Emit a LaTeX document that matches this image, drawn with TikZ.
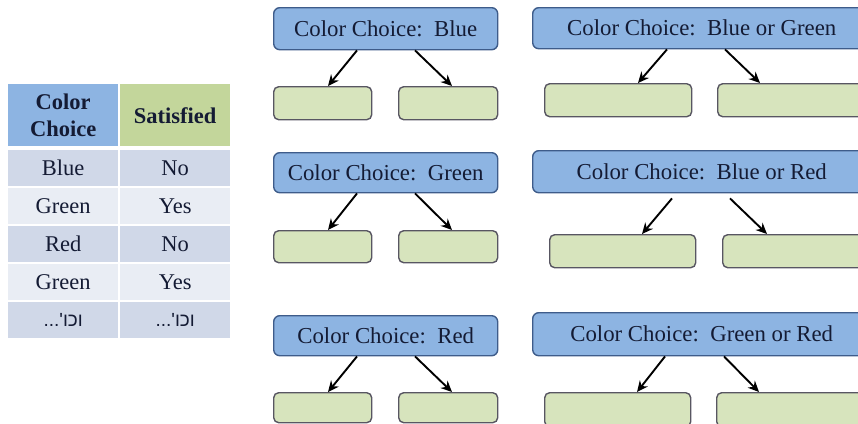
\documentclass[tikz,border=0pt]{standalone}
\usepackage{fontspec}
\setmainfont{Liberation Serif}
\newfontfamily\hebfont[Script=Hebrew]{Liberation Sans}
\TeXXeTstate=1
\usetikzlibrary{arrows.meta}

\definecolor{ink}{RGB}{20,27,52}
\definecolor{hdblue}{RGB}{141,180,226}
\definecolor{hdgreen}{RGB}{195,214,155}
\definecolor{rowdark}{RGB}{208,216,232}
\definecolor{rowlight}{RGB}{233,237,244}
\definecolor{pfill}{RGB}{141,180,226}
\definecolor{pborder}{RGB}{62,92,138}
\definecolor{lfill}{RGB}{215,228,189}
\definecolor{lborder}{RGB}{88,86,98}

\tikzset{
  cell/.style={anchor=north west, inner sep=0pt, minimum width=110pt,
    minimum height=36pt, text=ink, align=center,
    font=\fontsize{22.5}{27}\selectfont},
  hdcell/.style={cell, minimum height=62pt,
    font=\bfseries\fontsize{22.5}{27}\selectfont},
  heb/.style={font=\hebfont\fontsize{19}{22}\selectfont},
  parent/.style={anchor=north west, draw=pborder, fill=pfill,
    rounded corners=6pt, line width=1.4pt, inner sep=0pt, text=ink,
    font=\fontsize{22.8}{26}\selectfont},
  leaf/.style={anchor=north west, draw=lborder, fill=lfill,
    rounded corners=5pt, line width=1.4pt, inner sep=0pt},
  arr/.style={-{Stealth[length=11pt,width=10pt]}, line width=1.9pt, black},
}

\begin{document}
\begin{tikzpicture}[x=1pt,y=-1pt]
\useasboundingbox (0,0) rectangle (858,423);
\clip (0,0) rectangle (858,423);

% ---- table ----
\node[hdcell, fill=hdblue]  (h1) at (8,84)   {Color\\Choice};
\node[hdcell, fill=hdgreen] (h2) at (120,84) {Satisfied};

\node[cell, fill=rowdark]  (a1) at (8,150)   {Blue};
\node[cell, fill=rowdark]  (b1) at (120,150) {No};
\node[cell, fill=rowlight] (a2) at (8,188)   {Green};
\node[cell, fill=rowlight] (b2) at (120,188) {Yes};
\node[cell, fill=rowdark]  (a3) at (8,226)   {Red};
\node[cell, fill=rowdark]  (b3) at (120,226) {No};
\node[cell, fill=rowlight] (a4) at (8,264)   {Green};
\node[cell, fill=rowlight] (b4) at (120,264) {Yes};
\node[cell, heb, fill=rowdark] (a5) at (8,302)   {\beginR וכו'...\endR};
\node[cell, heb, fill=rowdark] (b5) at (120,302) {\beginR וכו'...\endR};

% ---- left column of trees ----
\node[parent, minimum width=224pt, minimum height=42pt] (p1) at (273,7) {Color Choice:\enspace Blue};
\node[leaf, minimum width=98pt, minimum height=33pt] (l1) at (273,86) {};
\node[leaf, minimum width=99pt, minimum height=33pt] (r1) at (398,86) {};
\draw[arr] ([xshift=84pt]p1.south west) -- ([xshift=55pt]l1.north west);
\draw[arr] ([xshift=142pt]p1.south west) -- ([xshift=54pt]r1.north west);

\node[parent, minimum width=224pt, minimum height=40pt] (p3) at (273,152) {Color Choice:\enspace Green};
\node[leaf, minimum width=98pt, minimum height=32pt] (l3) at (273,230) {};
\node[leaf, minimum width=99pt, minimum height=32pt] (r3) at (398,230) {};
\draw[arr] ([xshift=84pt]p3.south west) -- ([xshift=55pt]l3.north west);
\draw[arr] ([xshift=142pt]p3.south west) -- ([xshift=54pt]r3.north west);

\node[parent, minimum width=224pt, minimum height=40pt] (p5) at (273,315) {Color Choice:\enspace Red};
\node[leaf, minimum width=98pt, minimum height=30pt] (l5) at (273,392) {};
\node[leaf, minimum width=99pt, minimum height=30pt] (r5) at (398,392) {};
\draw[arr] ([xshift=84pt]p5.south west) -- ([xshift=55pt]l5.north west);
\draw[arr] ([xshift=142pt]p5.south west) -- ([xshift=54pt]r5.north west);

% ---- right column of trees ----
\node[parent, minimum width=338pt, minimum height=41pt] (p2) at (532,7) {Color Choice:\enspace Blue or Green};
\node[leaf, minimum width=147pt, minimum height=33pt] (l2) at (544,83) {};
\node[leaf, minimum width=155pt, minimum height=33pt] (r2) at (717,83) {};
\draw[arr] ([xshift=135pt]p2.south west) -- ([xshift=94pt]l2.north west);
\draw[arr] ([xshift=193pt]p2.south west) -- ([xshift=43pt]r2.north west);

\node[parent, minimum width=338pt, minimum height=42pt] (p4) at (532,150) {Color Choice:\enspace Blue or Red};
\node[leaf, minimum width=146pt, minimum height=33pt] (l4) at (549,234) {};
\node[leaf, minimum width=150pt, minimum height=33pt] (r4) at (722,234) {};
\draw[arr] ([xshift=140pt,yshift=-5pt]p4.south west) -- ([xshift=93pt]l4.north west);
\draw[arr] ([xshift=198pt,yshift=-5pt]p4.south west) -- ([xshift=45pt]r4.north west);

\node[parent, minimum width=338pt, minimum height=43pt] (p6) at (532,312) {Color Choice:\enspace Green or Red};
\node[leaf, minimum width=146pt, minimum height=34pt] (l6) at (544,392) {};
\node[leaf, minimum width=155pt, minimum height=34pt] (r6) at (716,392) {};
\draw[arr] ([xshift=133pt]p6.south west) -- ([xshift=93pt]l6.north west);
\draw[arr] ([xshift=192pt]p6.south west) -- ([xshift=43pt]r6.north west);
\end{tikzpicture}
\end{document}
